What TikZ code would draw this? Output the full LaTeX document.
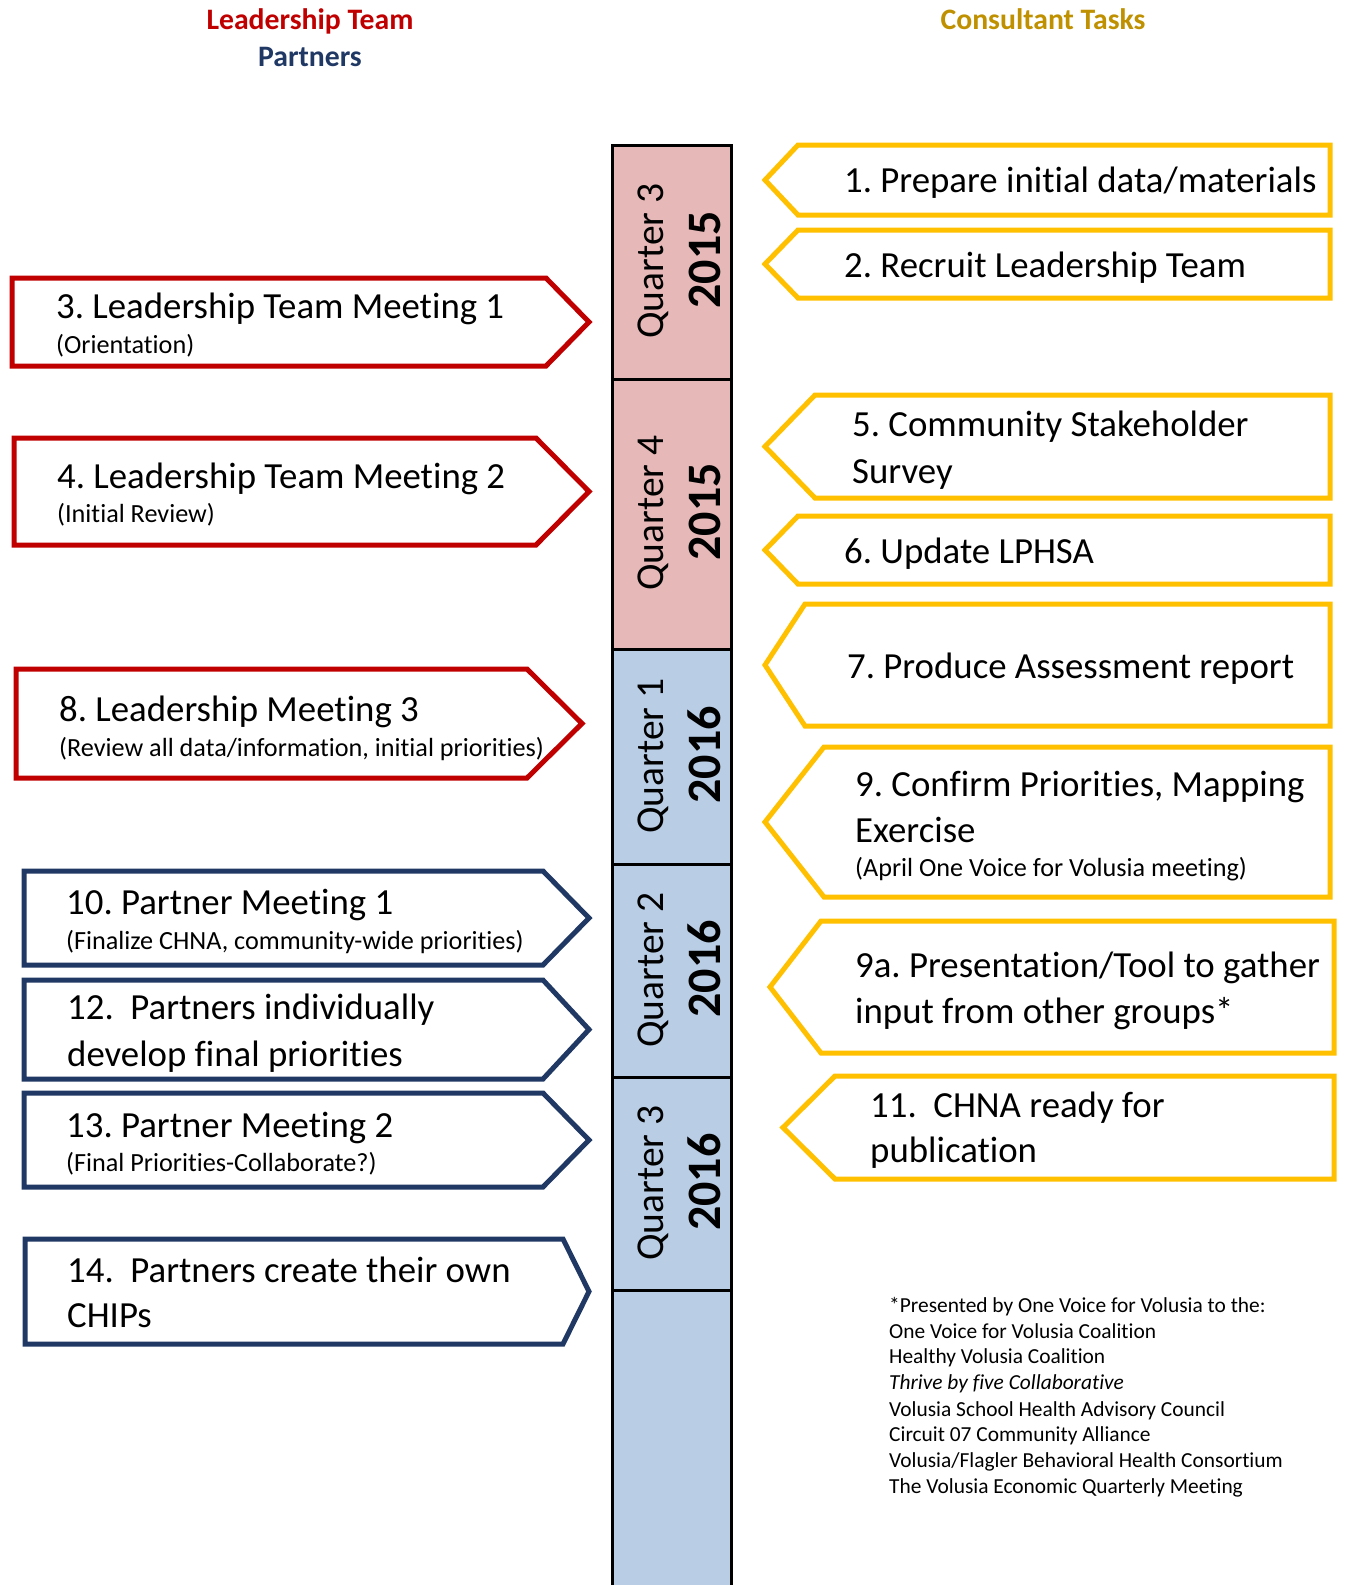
\documentclass[tikz,border=0pt]{standalone}
\usepackage{fontspec}
\setmainfont{Carlito}[RawFeature={-liga}]
\frenchspacing
\definecolor{ldred}{HTML}{C00000}
\definecolor{navy}{HTML}{203864}
\definecolor{gold}{HTML}{FFC000}
\definecolor{goldtxt}{HTML}{BF9000}
\definecolor{qpink}{HTML}{E6B9B8}
\definecolor{qblue}{HTML}{B9CDE5}
\newcommand\LBox[6]{\draw[#1] (#2,#5) -- (#3,#5) -- (#4,{(#5+#6)/2}) -- (#3,#6) -- (#2,#6) -- cycle;}
\newcommand\RBox[6]{\draw[#1] (#4,#5) -- (#3,#5) -- (#2,{(#5+#6)/2}) -- (#3,#6) -- (#4,#6) -- cycle;}
\tikzset{
  redbox/.style={draw=ldred, line width=5pt, fill=white, line join=miter},
  navybox/.style={draw=navy, line width=5pt, fill=white, line join=miter},
  goldbox/.style={draw=gold, line width=5pt, fill=white, line join=miter},
  big/.style={anchor=base west, inner sep=0pt, font=\fontsize{36.8}{44}\selectfont},
  small/.style={anchor=base west, inner sep=0pt, font=\fontsize{26.2}{31}\selectfont},
  qtxt/.style={rotate=90, anchor=base, inner sep=0pt, font=\fontsize{39.5}{47}\selectfont},
  ytxt/.style={rotate=90, anchor=base, inner sep=0pt, font=\fontsize{48}{56}\selectfont\bfseries},
  foot/.style={anchor=base west, inner sep=0pt, font=\fontsize{21.4}{25}\selectfont},
  head/.style={anchor=base, inner sep=0pt, font=\fontsize{29.7}{35}\selectfont\bfseries},
  colline/.style={line width=3pt}
}
\begin{document}
\begin{tikzpicture}[x=1pt,y=-1pt]
\useasboundingbox (0,0) rectangle (1348,1585);
% headers
\node[head, text=ldred] (h1) at (310,29.5) {Leadership Team};
\node[head, text=navy] (h2) at (310,66) {Partners};
\node[head, text=goldtxt] (h3) at (1043,29.5) {Consultant Tasks};
% timeline column
\fill[qpink] (612,145) rectangle (731,649);
\fill[qblue] (612,649) rectangle (731,1600);
\draw[colline] (612,1600) -- (612,145) -- (731,145) -- (731,1600);
\foreach \yy in {379,649,864,1077,1290} \draw[colline] (612,\yy) -- (731,\yy);
\node[qtxt] (q1) at (663,261) {Quarter 3};
\node[ytxt] (y1) at (720,260) {2015};
\node[qtxt] (q2) at (663,513) {Quarter 4};
\node[ytxt] (y2) at (720,512) {2015};
\node[qtxt] (q3) at (663,756) {Quarter 1};
\node[ytxt] (y3) at (720,755) {2016};
\node[qtxt] (q4) at (663,970) {Quarter 2};
\node[ytxt] (y4) at (720,969) {2016};
\node[qtxt] (q5) at (663,1183) {Quarter 3};
\node[ytxt] (y5) at (720,1182) {2016};
% left boxes
\LBox{redbox}{12}{546}{589}{278}{366}
\node[big] (t3) at (56,318) {3. Leadership Team Meeting 1};
\node[small] (s3) at (56,353) {(Orientation)};
\LBox{redbox}{14}{536}{589}{438}{545}
\node[big] (t4) at (57,488) {4. Leadership Team Meeting 2};
\node[small] (s4) at (57,522) {(Initial Review)};
\LBox{redbox}{16}{527}{582}{669}{778}
\node[big] (t8) at (59,721) {8. Leadership Meeting 3};
\node[small] (s8) at (59,756) {(Review all data/information, initial priorities)};
\LBox{navybox}{24}{543}{589}{871}{965}
\node[big] (t10) at (66,914) {10. Partner Meeting 1};
\node[small] (s10) at (66,949) {(Finalize CHNA, community-wide priorities)};
\LBox{navybox}{24}{543}{589}{980}{1079}
\node[big] (t12) at (67,1019) {12.~~Partners individually};
\node[big] (u12) at (67,1066) {develop final priorities};
\LBox{navybox}{24}{543}{589}{1093}{1187}
\node[big] (t13) at (66,1137) {13. Partner Meeting 2};
\node[small] (s13) at (66,1171) {(Final Priorities-Collaborate?)};
\LBox{navybox}{25}{563}{589}{1239}{1344}
\node[big] (t14) at (67,1282) {14.~~Partners create their own};
\node[big] (u14) at (67,1327) {CHIPs};
% right boxes
\RBox{goldbox}{765}{798}{1330}{145}{215}
\node[big] (t1) at (844,192) {1. Prepare initial data/materials};
\RBox{goldbox}{765}{798}{1330}{230}{298}
\node[big] (t2) at (844,277) {2. Recruit Leadership Team};
\RBox{goldbox}{765}{815}{1330}{395}{498}
\node[big] (t5) at (852,436) {5. Community Stakeholder};
\node[big] (u5) at (852,483) {Survey};
\RBox{goldbox}{765}{798}{1330}{516}{584}
\node[big] (t6) at (844,563) {6. Update LPHSA};
\RBox{goldbox}{765}{805}{1330}{604}{726}
\node[big] (t7) at (847,678) {7. Produce Assessment report};
\RBox{goldbox}{765}{824}{1330}{747}{897}
\node[big] (t9) at (855,796) {9. Confirm Priorities, Mapping};
\node[big] (u9) at (855,842) {Exercise};
\node[small] (s9) at (855,876) {(April One Voice for Volusia meeting)};
\RBox{goldbox}{770}{821}{1334}{921}{1053}
\node[big] (t9a) at (855,977) {9a. Presentation/Tool to gather};
\node[big] (u9a) at (855,1023) {input from other groups*};
\RBox{goldbox}{783}{835}{1334}{1076}{1179}
\node[big] (t11) at (870,1117) {11.~~CHNA ready for};
\node[big] (u11) at (870,1162) {publication};
% footnote
\node[foot] (f1) at (889,1312.5) {*Presented by One Voice for Volusia to the:};
\node[foot] (f2) at (889,1338.5) {One Voice for Volusia Coalition};
\node[foot] (f3) at (889,1363.5) {Healthy Volusia Coalition};
\node[foot] (f4) at (889,1389.5) {\itshape Thrive by five Collaborative};
\node[foot] (f5) at (889,1416.5) {Volusia School Health Advisory Council};
\node[foot] (f6) at (889,1441.5) {Circuit 07 Community Alliance};
\node[foot] (f7) at (889,1467.5) {Volusia/Flagler Behavioral Health Consortium};
\node[foot] (f8) at (889,1493.5) {The Volusia Economic Quarterly Meeting};
\end{tikzpicture}
\end{document}
